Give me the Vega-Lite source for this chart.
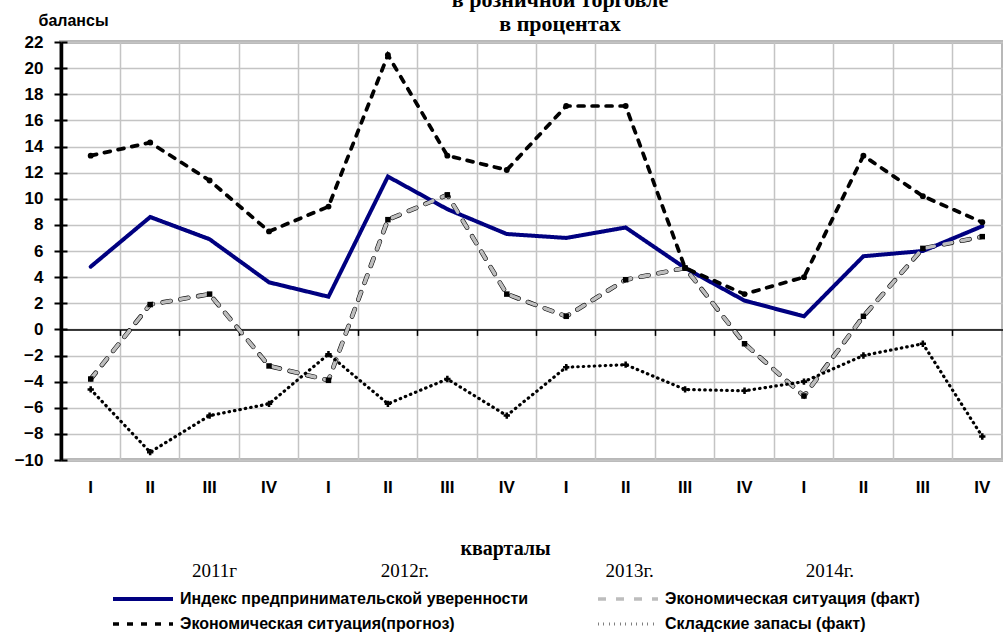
{
"$schema": "https://vega.github.io/schema/vega-lite/v6.json",
"width": 942, "height": 418,
"autosize": {"type": "none"},
"padding": {"left": 61, "top": 42, "right": 0, "bottom": 172},
"background": "white",
"title": {"text": ["в розничной торговле", "в процентах"], "font": "Liberation Serif", "fontSize": 22, "fontWeight": "bold", "lineHeight": 24, "color": "black", "anchor": "middle", "dx": 28, "offset": -24},
"config": {"view": {"stroke": "#b8b8b8", "strokeWidth": 4}, "axis": {"labelFlush": false, "labelOverlap": false}},
"data": {"values": [
{"q":"2011-I","s":"Индекс предпринимательской уверенности","v":4.8},
{"q":"2011-II","s":"Индекс предпринимательской уверенности","v":8.6},
{"q":"2011-III","s":"Индекс предпринимательской уверенности","v":6.9},
{"q":"2011-IV","s":"Индекс предпринимательской уверенности","v":3.6},
{"q":"2012-I","s":"Индекс предпринимательской уверенности","v":2.5},
{"q":"2012-II","s":"Индекс предпринимательской уверенности","v":11.7},
{"q":"2012-III","s":"Индекс предпринимательской уверенности","v":9.2},
{"q":"2012-IV","s":"Индекс предпринимательской уверенности","v":7.3},
{"q":"2013-I","s":"Индекс предпринимательской уверенности","v":7.0},
{"q":"2013-II","s":"Индекс предпринимательской уверенности","v":7.8},
{"q":"2013-III","s":"Индекс предпринимательской уверенности","v":4.7},
{"q":"2013-IV","s":"Индекс предпринимательской уверенности","v":2.2},
{"q":"2014-I","s":"Индекс предпринимательской уверенности","v":1.0},
{"q":"2014-II","s":"Индекс предпринимательской уверенности","v":5.6},
{"q":"2014-III","s":"Индекс предпринимательской уверенности","v":6.0},
{"q":"2014-IV","s":"Индекс предпринимательской уверенности","v":7.9},
{"q":"2011-I","s":"Экономическая ситуация (факт)","v":-3.8},
{"q":"2011-II","s":"Экономическая ситуация (факт)","v":1.9},
{"q":"2011-III","s":"Экономическая ситуация (факт)","v":2.7},
{"q":"2011-IV","s":"Экономическая ситуация (факт)","v":-2.8},
{"q":"2012-I","s":"Экономическая ситуация (факт)","v":-3.9},
{"q":"2012-II","s":"Экономическая ситуация (факт)","v":8.4},
{"q":"2012-III","s":"Экономическая ситуация (факт)","v":10.3},
{"q":"2012-IV","s":"Экономическая ситуация (факт)","v":2.7},
{"q":"2013-I","s":"Экономическая ситуация (факт)","v":1.0},
{"q":"2013-II","s":"Экономическая ситуация (факт)","v":3.8},
{"q":"2013-III","s":"Экономическая ситуация (факт)","v":4.7},
{"q":"2013-IV","s":"Экономическая ситуация (факт)","v":-1.1},
{"q":"2014-I","s":"Экономическая ситуация (факт)","v":-5.1},
{"q":"2014-II","s":"Экономическая ситуация (факт)","v":1.0},
{"q":"2014-III","s":"Экономическая ситуация (факт)","v":6.2},
{"q":"2014-IV","s":"Экономическая ситуация (факт)","v":7.1},
{"q":"2011-I","s":"Экономическая ситуация(прогноз)","v":13.3},
{"q":"2011-II","s":"Экономическая ситуация(прогноз)","v":14.3},
{"q":"2011-III","s":"Экономическая ситуация(прогноз)","v":11.4},
{"q":"2011-IV","s":"Экономическая ситуация(прогноз)","v":7.5},
{"q":"2012-I","s":"Экономическая ситуация(прогноз)","v":9.4},
{"q":"2012-II","s":"Экономическая ситуация(прогноз)","v":21.0},
{"q":"2012-III","s":"Экономическая ситуация(прогноз)","v":13.3},
{"q":"2012-IV","s":"Экономическая ситуация(прогноз)","v":12.2},
{"q":"2013-I","s":"Экономическая ситуация(прогноз)","v":17.1},
{"q":"2013-II","s":"Экономическая ситуация(прогноз)","v":17.1},
{"q":"2013-III","s":"Экономическая ситуация(прогноз)","v":4.7},
{"q":"2013-IV","s":"Экономическая ситуация(прогноз)","v":2.7},
{"q":"2014-I","s":"Экономическая ситуация(прогноз)","v":4.0},
{"q":"2014-II","s":"Экономическая ситуация(прогноз)","v":13.3},
{"q":"2014-III","s":"Экономическая ситуация(прогноз)","v":10.2},
{"q":"2014-IV","s":"Экономическая ситуация(прогноз)","v":8.2},
{"q":"2011-I","s":"Складские запасы (факт)","v":-4.6},
{"q":"2011-II","s":"Складские запасы (факт)","v":-9.4},
{"q":"2011-III","s":"Складские запасы (факт)","v":-6.6},
{"q":"2011-IV","s":"Складские запасы (факт)","v":-5.7},
{"q":"2012-I","s":"Складские запасы (факт)","v":-1.9},
{"q":"2012-II","s":"Складские запасы (факт)","v":-5.7},
{"q":"2012-III","s":"Складские запасы (факт)","v":-3.8},
{"q":"2012-IV","s":"Складские запасы (факт)","v":-6.6},
{"q":"2013-I","s":"Складские запасы (факт)","v":-2.9},
{"q":"2013-II","s":"Складские запасы (факт)","v":-2.7},
{"q":"2013-III","s":"Складские запасы (факт)","v":-4.6},
{"q":"2013-IV","s":"Складские запасы (факт)","v":-4.7},
{"q":"2014-I","s":"Складские запасы (факт)","v":-4.0},
{"q":"2014-II","s":"Складские запасы (факт)","v":-2.0},
{"q":"2014-III","s":"Складские запасы (факт)","v":-1.1},
{"q":"2014-IV","s":"Складские запасы (факт)","v":-8.2}
]},
"resolve": {"axis": {"x": "independent", "y": "independent"}},
"layer": [
{
"mark": {"type": "point", "opacity": 0},
"encoding": {
"x": {"field": "q", "type": "nominal", "bandPosition": 0.5,
"scale": {"type": "band", "domain": ["2011-I","2011-II","2011-III","2011-IV","2012-I","2012-II","2012-III","2012-IV","2013-I","2013-II","2013-III","2013-IV","2014-I","2014-II","2014-III","2014-IV"], "range": [0, 951], "paddingInner": 0, "paddingOuter": 0},
"axis": {"orient": "bottom", "offset": -130.6, "bandPosition": 0, "grid": false, "labels": false, "title": null, "domain": true, "domainColor": "black", "domainWidth": 1.5, "ticks": true, "tickColor": "black", "tickWidth": 1.5, "tickSize": 6}},
"y": {"field": "v", "type": "quantitative", "scale": {"domain": [-10, 22], "nice": false, "zero": false},
"axis": {"orient": "left", "values": [-10,-8,-6,-4,-2,0,2,4,6,8,10,12,14,16,18,20,22], "tickSize": -6, "tickColor": "black", "tickWidth": 2, "labels": false, "domain": false, "grid": false, "title": null}}
}
},
{
"transform": [{"filter": {"field": "s", "equal": "Экономическая ситуация (факт)"}}],
"mark": {"type": "line", "color": "black", "strokeWidth": 4.6, "strokeDash": [8, 10], "strokeCap": "round"},
"encoding": {
"x": {"field": "q", "type": "nominal", "bandPosition": 0.5, "axis": null},
"y": {"field": "v", "type": "quantitative", "axis": null}
}
},
{
"mark": {"type": "line", "strokeCap": "round", "strokeJoin": "miter"},
"encoding": {
"x": {"field": "q", "type": "nominal", "bandPosition": 0.5,
"axis": {"orient": "bottom", "bandPosition": 0, "grid": true, "gridColor": "#c4c4c4", "gridWidth": 1.5, "ticks": false, "tickSize": 0, "domain": false, "labelExpr": "split(datum.value, '-')[1]", "labelAlign": "center", "labelBaseline": "middle", "labelPadding": 27, "labelAngle": 0, "labelFont": "Liberation Sans", "labelFontWeight": "bold", "labelFontSize": 17, "labelColor": "black", "title": "кварталы", "titleFont": "Liberation Serif", "titleFontSize": 20, "titleFontWeight": "bold", "titleColor": "black", "titleX": 444, "titleY": 88, "titleAlign": "center", "titleBaseline": "middle"}},
"y": {"field": "v", "type": "quantitative",
"axis": {"orient": "left", "values": [-10,-8,-6,-4,-2,0,2,4,6,8,10,12,14,16,18,20,22], "grid": true, "gridColor": "#c4c4c4", "gridWidth": 1.5, "domainColor": "black", "domainWidth": 3.5, "tickColor": "black", "tickWidth": 2, "tickSize": 7, "labelFont": "Liberation Sans", "labelFontWeight": "bold", "labelFontSize": 17, "labelColor": "black", "labelPadding": 11, "title": "балансы", "titleAngle": 0, "titleAlign": "left", "titleBaseline": "alphabetic", "titleX": -23, "titleY": -17, "titleFont": "Liberation Sans", "titleFontSize": 16, "titleFontWeight": "bold", "titleColor": "black"}},
"color": {"field": "s", "type": "nominal",
"scale": {"domain": ["Индекс предпринимательской уверенности", "Экономическая ситуация(прогноз)", "Экономическая ситуация (факт)", "Складские запасы (факт)"], "range": ["#000080", "black", "#bdbdbd", "black"]},
"legend": {"orient": "none", "legendX": 70, "legendY": 545, "columns": 2, "title": null, "padding": 0, "symbolType": "M-3,0H3", "symbolSize": 400, "symbolStrokeWidth": 3, "labelOffset": 25, "labelFont": "Liberation Sans", "labelFontWeight": "bold", "labelFontSize": 16, "labelColor": "black", "labelLimit": 600, "rowPadding": 5, "columnPadding": 62}},
"strokeDash": {"field": "s", "type": "nominal",
"scale": {"domain": ["Индекс предпринимательской уверенности", "Экономическая ситуация(прогноз)", "Экономическая ситуация (факт)", "Складские запасы (факт)"], "range": [[1, 0], [6, 8], [8, 10], [0.5, 5]]},
"legend": {"orient": "none", "legendX": 70, "legendY": 545, "columns": 2, "title": null, "padding": 0, "symbolType": "M-3,0H3", "symbolSize": 400, "symbolStrokeWidth": 3, "labelOffset": 25, "labelFont": "Liberation Sans", "labelFontWeight": "bold", "labelFontSize": 16, "labelColor": "black", "labelLimit": 600, "rowPadding": 5, "columnPadding": 62}},
"strokeWidth": {"field": "s", "type": "ordinal",
"scale": {"domain": ["Индекс предпринимательской уверенности", "Экономическая ситуация(прогноз)", "Экономическая ситуация (факт)", "Складские запасы (факт)"], "range": [4, 3.2, 2.2, 2.5]}, "legend": null}
}
},
{
"transform": [{"filter": {"not": {"field": "s", "equal": "Индекс предпринимательской уверенности"}}}],
"mark": {"type": "point", "filled": true, "color": "black", "opacity": 1},
"encoding": {
"x": {"field": "q", "type": "nominal", "bandPosition": 0.5, "axis": null},
"y": {"field": "v", "type": "quantitative", "axis": null},
"shape": {"field": "s", "type": "nominal", "scale": {"domain": ["Экономическая ситуация (факт)", "Экономическая ситуация(прогноз)", "Складские запасы (факт)"], "range": ["square", "circle", "cross"]}, "legend": null},
"size": {"field": "s", "type": "ordinal", "scale": {"domain": ["Экономическая ситуация (факт)", "Экономическая ситуация(прогноз)", "Складские запасы (факт)"], "range": [30, 40, 30]}, "legend": null}
}
},
{
"mark": {"type": "point", "opacity": 0},
"encoding": {
"x": {"field": "q", "type": "nominal", "bandPosition": 0.5,
"axis": {"orient": "bottom", "values": ["2011-III", "2012-II", "2013-II", "2014-II"], "labelExpr": "datum.value == '2011-III' ? '2011г' : datum.value == '2012-II' ? '2012г.' : datum.value == '2013-II' ? '2013г.' : '2014г.'", "labelOffset": {"condition": [{"test": "datum.value == '2011-III'", "value": 5}, {"test": "datum.value == '2012-II'", "value": 17}, {"test": "datum.value == '2013-II'", "value": 4}], "value": -33.5}, "domain": false, "ticks": false, "tickSize": 0, "grid": false, "labelPadding": 110, "labelBaseline": "middle", "labelAlign": "center", "labelAngle": 0, "labelFont": "Liberation Serif", "labelFontSize": 19, "labelColor": "black", "title": null}}
}
}
]
}
